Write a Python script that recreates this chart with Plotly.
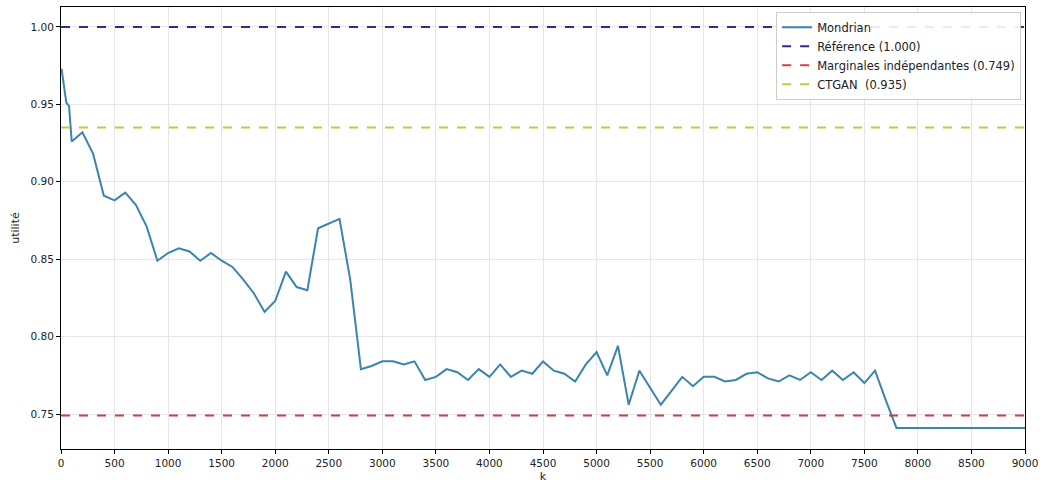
import plotly.graph_objects as go

# Utility of the Mondrian anonymisation as a function of k
k_values = [5, 50, 75] + list(range(100, 9001, 100))
mondrian_utility = [
    0.973, 0.951, 0.949,
    0.926, 0.932, 0.918, 0.891, 0.888, 0.893, 0.885, 0.871, 0.849, 0.854,
    0.857, 0.855, 0.849, 0.854, 0.849, 0.845, 0.837, 0.828, 0.816, 0.823,
    0.842, 0.832, 0.830, 0.870, 0.873, 0.876, 0.837, 0.779, 0.781, 0.784,
    0.784, 0.782, 0.784, 0.772, 0.774, 0.779, 0.777, 0.772, 0.779, 0.774,
    0.782, 0.774, 0.778, 0.776, 0.784, 0.778, 0.776, 0.771, 0.782, 0.790,
    0.775, 0.794, 0.756, 0.778, 0.767, 0.756, 0.765, 0.774, 0.768, 0.774,
    0.774, 0.771, 0.772, 0.776, 0.777, 0.773, 0.771, 0.775, 0.772, 0.777,
    0.772, 0.778, 0.772, 0.777, 0.770, 0.778, 0.759, 0.741, 0.741, 0.741,
    0.741, 0.741, 0.741, 0.741, 0.741, 0.741, 0.741, 0.741, 0.741, 0.741,
]

# Baselines
baseline_names = ["Référence", "Marginales indépendantes", "CTGAN "]
baseline_values = [1.000, 0.749, 0.935]
baseline_colors = ["#2b2b96", "#cc4040", "#c8c83c"]

x_ticks = list(range(0, 9001, 500))
y_ticks = [0.75, 0.80, 0.85, 0.90, 0.95, 1.00]
x_span = [0, 9000]

fig = go.Figure()
fig.add_trace(go.Scatter(
    x=k_values, y=mondrian_utility, mode="lines", name="Mondrian",
    line=dict(color="#3a84ad", width=2),
))
for name, val, col in zip(baseline_names, baseline_values, baseline_colors):
    fig.add_trace(go.Scatter(
        x=x_span, y=[val, val], mode="lines",
        name=f"{name} ({val:.3f})",
        line=dict(color=col, width=2, dash="dash"),
    ))

axis_common = dict(
    showgrid=True, gridcolor="#e6e6e6", gridwidth=1,
    showline=True, linecolor="black", linewidth=1, mirror=True,
    ticks="outside", ticklen=4, tickcolor="black",
    tickfont=dict(size=10.5, color="#222"), zeroline=False,
    automargin=False, ticklabeloverflow="allow",
)

fig.update_layout(
    width=1040, height=483,
    margin=dict(l=61, r=15, t=7, b=34),
    paper_bgcolor="white", plot_bgcolor="white",
    font=dict(family="DejaVu Sans", size=11, color="#222"),
    xaxis=dict(range=[0, 9000], tickvals=x_ticks,
               title=dict(text="k", standoff=6, font=dict(size=11)), **axis_common),
    yaxis=dict(range=[0.7274, 1.0129], tickvals=y_ticks, tickformat=".2f",
               title=dict(text="utilité", standoff=8, font=dict(size=11)), **axis_common),
    legend=dict(x=0.996, y=0.989, xanchor="right", yanchor="top",
                bgcolor="rgba(255,255,255,0.9)", bordercolor="#cccccc", borderwidth=1,
                font=dict(size=11.5), tracegroupgap=0, itemwidth=30),
    showlegend=True,
)

fig.write_html("out.html")
